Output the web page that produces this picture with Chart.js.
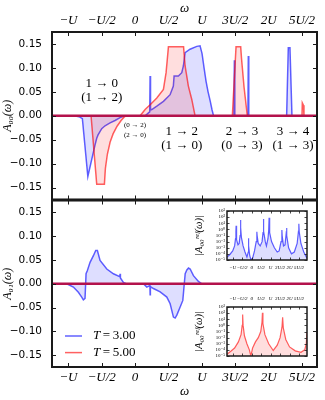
<!DOCTYPE html>
<html>
<head>
<meta charset="utf-8">
<script src="https://cdn.jsdelivr.net/npm/chart.js@4.4.0/dist/chart.umd.min.js"></script>
<style>
  html, body { margin: 0; padding: 0; background: #fff; }
  #fig { position: relative; width: 325px; height: 400px; overflow: hidden; }
  canvas { position: absolute; }
</style>
</head>
<body>
<div id="fig">
  <canvas id="top" width="325" height="210" style="left:0;top:0"></canvas>
  <canvas id="bottom" width="325" height="210" style="left:0;top:190px"></canvas>
  <canvas id="inset1" width="135" height="80" style="left:190px;top:200px"></canvas>
  <canvas id="inset2" width="135" height="80" style="left:190px;top:288px"></canvas>
</div>
<script>
// omega in units of U
var xTicks = [-1, -0.5, 0, 0.5, 1, 1.5, 2, 2.5];
var xTickLabels = ['\u2212U', '\u2212U/2', '0', 'U/2', 'U', '3U/2', '2U', '5U/2'];
var yTicks = [-0.15, -0.10, -0.05, 0, 0.05, 0.10, 0.15];
var insetDecades = [1e-5, 1e-4, 1e-3, 1e-2, 1e-1, 1, 1e1, 1e2, 1e3];
var insetDecadeLabels = ['10\u207B\u2075', '10\u207B\u2074', '10\u207B\u00B3', '10\u207B\u00B2', '10\u207B\u00B9', '10\u2070', '10\u00B9', '10\u00B2', '10\u00B3'];

var labelT3 = 'T = 3.00';
var labelT5 = 'T = 5.00';

// A00(omega), T = 3
var a00T3 = [[-1.245,0],[-0.915,0],[-0.84,-0.002],[-0.79,-0.006],[-0.708,-0.127],[-0.60,-0.061],[-0.575,-0.047],
  [-0.555,-0.040],[-0.50,-0.027],[-0.45,-0.021],[-0.375,-0.015],[-0.30,-0.010],[-0.225,-0.004],[-0.15,0],
  [0.15,0],[0.20,0.006],[0.219,0.008],[0.2245,0.083],[0.231,0.012],[0.25,0.013],[0.325,0.020],[0.424,0.030],
  [0.524,0.044],[0.573,0.062],[0.584,0.083],[0.648,0.083],[0.699,0.090],[0.723,0.104],[0.749,0.132],
  [0.823,0.139],[0.924,0.145],[0.973,0.146],[1.003,0.130],[1.033,0.100],[1.063,0.072],[1.093,0.050],
  [1.123,0.032],[1.153,0.012],[1.175,0],[1.48,0],[1.487,0.116],[1.494,0],[1.69,0],[1.696,0.125],[1.703,0],
  [2.27,0],[2.295,0.142],[2.32,0.142],[2.35,0],[2.725,0]];

// A00(omega), T = 5
var a00T5 = [[-1.245,0],[-0.66,0],[-0.575,-0.143],[-0.46,-0.143],[-0.445,-0.11],[-0.415,-0.08],[-0.374,-0.055],
  [-0.33,-0.038],[-0.27,-0.022],[-0.21,-0.010],[-0.165,-0.003],[-0.135,0],[0.075,0],[0.15,0.013],[0.225,0.023],
  [0.325,0.037],[0.424,0.055],[0.464,0.090],[0.487,0.125],[0.499,0.144],[0.726,0.144],[0.749,0.104],
  [0.798,0.062],[0.849,0.034],[0.898,0],[1.457,0],[1.512,0.144],[1.582,0.144],[1.594,0.120],[1.632,0.060],
  [1.681,0],[2.50,0],[2.505,0.027],[2.522,0.022],[2.53,0],[2.725,0]];

// A01(omega), T = 3
var a01T3 = [[-1.245,0],[-1.024,0],[-0.925,-0.007],[-0.85,-0.018],[-0.80,-0.028],[-0.775,-0.034],[-0.75,-0.031],
  [-0.735,0.021],[-0.715,0.028],[-0.675,0.045],[-0.625,0.059],[-0.59,0.070],[-0.565,0.070],[-0.525,0.049],
  [-0.424,0.031],[-0.325,0.021],[-0.229,0.015],[-0.225,0.021],[-0.22,0.012],[-0.175,0.003],[-0.135,0],
  [0.124,0],[0.175,-0.007],[0.222,-0.004],[0.225,-0.023],[0.229,-0.006],[0.274,-0.010],[0.375,-0.017],
  [0.475,-0.028],[0.525,-0.042],[0.574,-0.070],[0.60,-0.072],[0.625,-0.066],[0.675,-0.049],[0.715,-0.035],
  [0.75,0.021],[0.775,0.029],[0.80,0.033],[0.825,0.031],[0.874,0.017],[0.949,0.005],[1.0,0],[2.725,0]];

// A01(omega), T = 5
var a01T5 = [[-1.245,0],[2.725,0]];

var zeroLine = [[-1.245,0],[2.725,0]];

// |A00 ref(omega)|, log scale insets
var refT3 = [[-1.30,3e-5],[-1.15,8e-5],[-1.00,3e-4],[-0.90,2e-3],[-0.85,3e-2],[-0.83,0.5],[-0.82,4],[-0.81,0.4],
  [-0.78,2e-2],[-0.72,3e-3],[-0.66,5e-3],[-0.61,0.1],[-0.59,2],[-0.58,35],[-0.57,2],[-0.54,5e-2],[-0.45,2e-3],
  [-0.35,2e-4],[-0.25,3e-5],[-0.18,2e-4],[-0.165,3e-2],[-0.16,0.035],[-0.155,2e-3],[-0.10,5e-5],[-0.03,1e-5],
  [0.05,2e-5],[0.15,3e-4],[0.24,1e-2],[0.27,0.1],[0.28,0.4],[0.29,0.1],[0.35,5e-3],[0.45,2e-3],[0.55,1e-2],
  [0.60,0.3],[0.62,50],[0.64,0.5],[0.72,1e-2],[0.78,2e-3],[0.86,3e-2],[0.90,0.8],[0.92,80],[0.95,0.3],
  [1.05,1e-2],[1.2,1e-3],[1.35,2e-4],[1.45,3e-4],[1.55,1e-2],[1.59,0.2],[1.60,0.8],[1.61,0.1],[1.68,2e-3],
  [1.76,3e-3],[1.82,0.2],[1.84,1.6],[1.86,0.1],[1.95,1e-3],[2.1,1e-4],[2.25,2e-4],[2.40,5e-3],[2.47,0.5],
  [2.49,8],[2.51,0.4],[2.6,5e-3],[2.75,2e-4],[2.92,2e-5]];

var refT5 = [[-1.30,2e-5],[-1.1,6e-5],[-0.9,2e-4],[-0.7,2e-3],[-0.56,3e-2],[-0.50,1],[-0.475,60],[-0.45,1],
  [-0.38,2e-2],[-0.25,1e-3],[-0.12,1e-4],[-0.04,1e-5],[0.05,2e-4],[0.2,2e-3],[0.35,1e-2],[0.48,0.1],
  [0.545,3],[0.57,110],[0.595,2],[0.7,3e-2],[0.9,1e-3],[1.14,8e-5],[1.35,6e-4],[1.5,1e-2],[1.6,0.5],
  [1.635,20],[1.67,0.4],[1.8,5e-3],[2.0,3e-4],[2.3,7e-5],[2.6,4e-5],[2.8,1e-4],[2.88,1e-3],[2.92,0.08]];

var topNotes = [
  ['1 \u2192 0', -0.5, 0.067, 13], ['(1 \u2192 2)', -0.5, 0.038, 13],
  ['(0 \u2192 2)', 0.0, -0.019, 7], ['(2 \u2192 0)', 0.0, -0.041, 7],
  ['1 \u2192 2', 0.70, -0.033, 13], ['(1 \u2192 0)', 0.70, -0.063, 13],
  ['2 \u2192 3', 1.60, -0.033, 13], ['(0 \u2192 3)', 1.60, -0.063, 13],
  ['3 \u2192 4', 2.365, -0.033, 13], ['(1 \u2192 3)', 2.365, -0.063, 13]
];

var SERIF = "'Liberation Serif', 'DejaVu Serif', serif";
var SANS = "'DejaVu Sans', sans-serif";
var BLUE = 'rgba(0,0,255,0.62)';
var BLUE_FILL = 'rgba(0,0,255,0.13)';
var RED = 'rgba(255,0,0,0.62)';
var RED_FILL = 'rgba(255,0,0,0.13)';
var ZERO = '#b3124c';

function pts(arr) {
    return arr.map(function (p) { return {x: p[0], y: p[1]}; });
}

// frame + inward ticks on all four sides
var axesBox = {
    id: 'axesBox',
    beforeDraw: function (chart, args, o) {
        if (!o.white) return;
        var a = chart.chartArea, ctx = chart.ctx;
        ctx.save();
        ctx.fillStyle = '#fff';
        ctx.fillRect(a.left, a.top, a.width, a.height);
        ctx.restore();
    },
    afterDraw: function (chart, args, o) {
        var ctx = chart.ctx, a = chart.chartArea;
        var xs = chart.scales.x, ys = chart.scales.y;
        ctx.save();
        ctx.strokeStyle = '#1a1a1a';
        ctx.lineWidth = o.tickWidth;
        ctx.beginPath();
        xs.ticks.forEach(function (t) {
            var p = Math.round(xs.getPixelForValue(t.value)) + 0.5;
            ctx.moveTo(p, a.top); ctx.lineTo(p, a.top + o.tick);
            ctx.moveTo(p, a.bottom); ctx.lineTo(p, a.bottom - o.tick);
        });
        ys.ticks.forEach(function (t) {
            var p = Math.round(ys.getPixelForValue(t.value)) + 0.5;
            ctx.moveTo(a.left, p); ctx.lineTo(a.left + o.tick, p);
            ctx.moveTo(a.right, p); ctx.lineTo(a.right - o.tick, p);
        });
        ctx.stroke();
        ctx.lineWidth = o.frame;
        ctx.strokeRect(a.left, a.top, a.width, a.height);
        ctx.restore();
    }
};

// transition labels in the top panel
var notes = {
    id: 'notes',
    afterDatasetsDraw: function (chart, args, o) {
        if (!o.items) return;
        var ctx = chart.ctx;
        ctx.save();
        ctx.fillStyle = '#000';
        ctx.textAlign = 'center';
        ctx.textBaseline = 'middle';
        o.items.forEach(function (n) {
            ctx.font = n[3] + 'px ' + SERIF;
            ctx.fillText(n[0], chart.scales.x.getPixelForValue(n[1]), chart.scales.y.getPixelForValue(n[2]));
        });
        ctx.restore();
    }
};

var legendBox = {
    id: 'legendBox',
    afterDraw: function (chart, args, o) {
        if (!o.show) return;
        var ctx = chart.ctx, a = chart.chartArea;
        var items = chart.data.datasets.filter(function (d) { return d.label; });
        ctx.save();
        items.forEach(function (d, i) {
            var y = a.bottom - 31 + i * 16.6;
            ctx.strokeStyle = d.borderColor;
            ctx.lineWidth = 1.5;
            ctx.beginPath();
            ctx.moveTo(a.left + 13, y); ctx.lineTo(a.left + 30, y);
            ctx.stroke();
            ctx.fillStyle = '#000';
            ctx.textBaseline = 'middle';
            ctx.font = 'italic 13px ' + SERIF;
            ctx.fillText(d.label.charAt(0), a.left + 41, y);
            var w = ctx.measureText(d.label.charAt(0)).width;
            ctx.font = '13px ' + SERIF;
            ctx.fillText(d.label.slice(1).replace(/ /g, '\u2009'), a.left + 41 + w, y);
        });
        ctx.restore();
    }
};

Chart.register(axesBox, notes, legendBox);

function mainOptions(xPos, padding, yTitle, extra) {
    return {
        responsive: false,
        animation: false,
        devicePixelRatio: 1,
        layout: {padding: padding},
        elements: {point: {radius: 0}, line: {tension: 0, borderWidth: 1.5}},
        plugins: {
            legend: {display: false},
            tooltip: {enabled: false},
            axesBox: {tick: 4, tickWidth: 1, frame: 2},
            notes: {items: extra.notes},
            legendBox: {show: extra.legend}
        },
        scales: {
            x: {
                type: 'linear', position: xPos, min: -1.245, max: 2.725,
                grid: {display: false, drawTicks: false}, border: {display: false},
                afterBuildTicks: function (s) { s.ticks = xTicks.map(function (v) { return {value: v}; }); },
                afterFit: function (s) { s.height = extra.xHeight; },
                ticks: {
                    autoSkip: false, maxRotation: 0, padding: extra.xPad, color: '#000',
                    font: {family: SERIF, style: 'italic', size: 13},
                    callback: function (v, i) { return xTickLabels[i]; }
                },
                title: {display: true, text: '\u03C9', color: '#000',
                    font: {family: SERIF, style: 'italic', size: 13}, padding: {top: 1, bottom: 1}}
            },
            y: {
                type: 'linear', min: -0.175, max: 0.175,
                grid: {display: false, drawTicks: false}, border: {display: false},
                afterBuildTicks: function (s) { s.ticks = yTicks.map(function (v) { return {value: v}; }); },
                afterFit: function (s) { s.width = 52; },
                ticks: {
                    autoSkip: false, padding: 10, color: '#000',
                    font: {family: SANS, size: 10.5, lineHeight: 0.1},
                    callback: function (v) { return (v < -1e-9 ? '\u2212' : '') + Math.abs(v).toFixed(2); }
                },
                title: {display: true, text: yTitle, color: '#000',
                    font: {family: SERIF, style: 'italic', size: 12}, padding: {top: 1, bottom: 1}}
            }
        }
    };
}

function lineSet(label, data, color, fill, width) {
    return {label: label, data: pts(data), borderColor: color, backgroundColor: fill,
        fill: fill ? 'origin' : false, borderWidth: width};
}

new Chart(document.getElementById('top'), {
    type: 'line',
    data: {datasets: [
        lineSet('', zeroLine, ZERO, null, 2.5),
        lineSet('', a00T5, RED, RED_FILL, 1.5),
        lineSet('', a00T3, BLUE, BLUE_FILL, 1.5)
    ]},
    options: mainOptions('top', {top: 0, right: 8, bottom: 10, left: 0}, 'A\u2080\u2080(\u03C9)',
        {notes: topNotes, legend: false, xHeight: 32, xPad: 4})
});
new Chart(document.getElementById('bottom'), {
    type: 'line',
    data: {datasets: [
        lineSet('', zeroLine, ZERO, null, 2.5),
        lineSet(labelT3, a01T3, BLUE, BLUE_FILL, 1.5),
        lineSet(labelT5, a01T5, RED, RED_FILL, 1.5)
    ]},
    options: mainOptions('bottom', {top: 10, right: 8, bottom: 0, left: 0}, 'A\u2080\u2081(\u03C9)',
        {notes: null, legend: true, xHeight: 33, xPad: 3})
});

function insetOptions(xPos, padding, xHeight) {
    return {
        responsive: false,
        animation: false,
        devicePixelRatio: 1,
        layout: {padding: padding},
        elements: {point: {radius: 0}, line: {tension: 0, borderWidth: 1.2}},
        plugins: {
            legend: {display: false},
            tooltip: {enabled: false},
            axesBox: {tick: 2.5, tickWidth: 0.8, frame: 1.5, white: true}
        },
        scales: {
            x: {
                type: 'linear', position: xPos, min: -1.3, max: 2.92,
                grid: {display: false, drawTicks: false}, border: {display: false},
                afterBuildTicks: function (s) { s.ticks = xTicks.map(function (v) { return {value: v}; }); },
                afterFit: function (s) { s.height = xHeight; },
                ticks: {
                    autoSkip: false, maxRotation: 0, padding: 5, color: '#000',
                    font: {family: SERIF, style: 'italic', size: 5},
                    callback: function (v, i) { return xTickLabels[i]; }
                },
                title: {display: false}
            },
            y: {
                type: 'logarithmic', min: 1e-5, max: 1e3,
                grid: {display: false, drawTicks: false}, border: {display: false},
                afterBuildTicks: function (s) { s.ticks = insetDecades.map(function (v) { return {value: v}; }); },
                afterFit: function (s) { s.width = 37; },
                ticks: {
                    autoSkip: false, padding: 2, color: '#000',
                    font: {family: SERIF, size: 5, lineHeight: 0.1},
                    callback: function (v, i) { return insetDecadeLabels[i]; }
                },
                title: {display: true, text: '|A\u2080\u2080\u02B3\u1D49\u1DA0(\u03C9)|', color: '#000',
                    font: {family: SERIF, style: 'italic', size: 10.5}, padding: {top: 3, bottom: 0}}
            }
        }
    };
}

new Chart(document.getElementById('inset1'), {
    type: 'line',
    data: {datasets: [{data: pts(refT3), borderColor: BLUE, backgroundColor: BLUE_FILL, fill: 'start'}]},
    options: insetOptions('bottom', {top: 11, right: 18, bottom: 0, left: 0}, 20)
});
new Chart(document.getElementById('inset2'), {
    type: 'line',
    data: {datasets: [{data: pts(refT5), borderColor: RED, backgroundColor: RED_FILL, fill: 'start'}]},
    options: insetOptions('top', {top: 0, right: 18, bottom: 12, left: 0}, 19)
});
</script>
</body>
</html>
